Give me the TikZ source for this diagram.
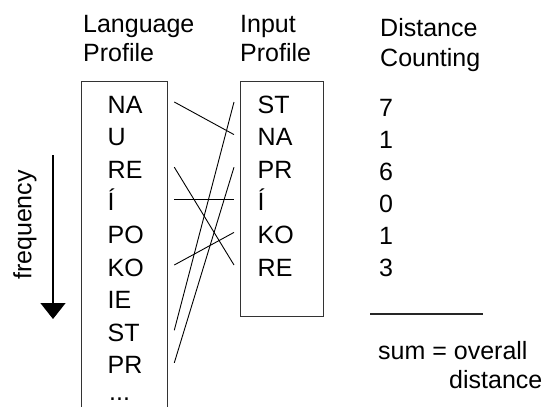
\documentclass[tikz,border=0pt]{standalone}
\usepackage{fontspec}
\setmainfont{Liberation Sans}
\usetikzlibrary{arrows.meta,calc}
\begin{document}
\begin{tikzpicture}[x=1pt,y=-1pt,
  every node/.style={inner sep=0pt,font=\fontsize{25}{29.5}\selectfont},
  head/.style={anchor=north west,align=left},
  item/.style={anchor=base west},
  profilebox/.style={draw=black!80,line width=1.3pt},
  link/.style={draw=black,line width=0.9pt},
  rule/.style={draw=black!85,line width=1.3pt}]
\useasboundingbox (0,0) rectangle (542,407);

% column headings
\node[head] (hlang) at (83,15) {Language\\Profile};
\node[head] (hinput) at (240,15) {Input\\Profile};
\node[head] (hdist) at (380,18.5) {Distance\\Counting};

% profile frames
\node[profilebox,anchor=north west,minimum width=86pt,minimum height=345pt] (lbox) at (81,81) {};
\node[profilebox,anchor=north west,minimum width=83pt,minimum height=235pt] (rbox) at (240,81) {};

% language profile, most frequent first
\foreach \t/\n [count=\i from 0] in {NA/lNA,U/lU,RE/lRE,Í/lI,PO/lPO,KO/lKO,IE/lIE,ST/lST,PR/lPR}
  \node[item] (\n) at (107.5,113+32.6*\i) {\t};
\node[item] (ldots) at (109,400) {...};

% input profile
\foreach \t/\n [count=\i from 0] in {ST/rST,NA/rNA,PR/rPR,Í/rI,KO/rKO,RE/rRE}
  \node[item] (\n) at (257.5,113+32.6*\i) {\t};

% rank differences
\foreach \v/\n [count=\i from 0] in {7/d1,1/d2,6/d3,0/d4,1/d5,3/d6}
  \node[item] (\n) at (379,116+32*\i) {\v};

% rank links between the two profiles
\foreach \a/\b in {lNA/rNA,lST/rST,lPR/rPR,lRE/rRE,lI/rI,lKO/rKO}
  \draw[link] ($(lbox.east |- \a.base)+(6,-11)$) -- ($(rbox.west |- \b.base)+(-6,-11)$);

% total
\coordinate (sumL) at (370,314);
\coordinate (sumR) at (483,314);
\draw[rule] (sumL) -- (sumR);
\node[item] (sum) at (378,359.5) {sum = overall};
\node[item] (sumdist) at (449,388) {distance};

% frequency axis
\coordinate (fTop) at (53,155);
\coordinate (fTip) at (53,319);
\draw[line width=1.4pt,-{Triangle[width=25pt,length=16pt]}] (fTop) -- (fTip);
\node[rotate=90] (freq) at (25,225) {frequency};
\end{tikzpicture}
\end{document}
